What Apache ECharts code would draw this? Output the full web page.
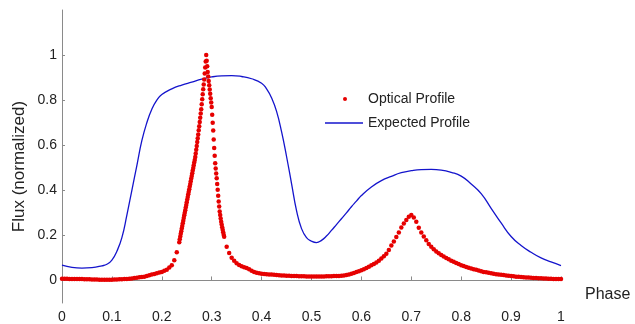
<!DOCTYPE html>
<html>
<head>
<meta charset="utf-8">
<title>Optical vs expected profile</title>
<script src="https://cdn.jsdelivr.net/npm/echarts@6/dist/echarts.min.js"></script>
<style>
  html, body { margin: 0; padding: 0; background: #fff; }
  #chart { width: 635px; height: 324px; }
</style>
</head>
<body>
<div id="chart"></div>
<script>
// tick labels
const xTicks = [0, 0.1, 0.2, 0.3, 0.4, 0.5, 0.6, 0.7, 0.8, 0.9, 1];
const yTicks = [0, 0.2, 0.4, 0.6, 0.8, 1];

// optical profile in three stretches
// phase 0 .. 0.235, step 0.005
const opticalLowStart = 0, opticalLowStep = 0.005;
const opticalLow = [
  0.008, 0.008, 0.008, 0.007, 0.007, 0.007, 0.006, 0.006, 0.006, 0.005,
  0.005, 0.005, 0.004, 0.004, 0.004, 0.003, 0.003, 0.003, 0.003, 0.003,
  0.003, 0.004, 0.004, 0.005, 0.005, 0.006, 0.006, 0.008, 0.009, 0.011,
  0.012, 0.014, 0.015, 0.017, 0.020, 0.023, 0.026, 0.029, 0.032, 0.035,
  0.038, 0.043, 0.048, 0.058, 0.068, 0.090, 0.125, 0.170
];
// phase 0.236 .. 0.325, step 0.001 (the main peak)
const opticalPeakStart = 0.236, opticalPeakStep = 0.001;
const opticalPeak = [
  0.183, 0.195, 0.207, 0.218, 0.230, 0.242, 0.254, 0.265, 0.277, 0.289,
  0.300, 0.312, 0.324, 0.335, 0.347, 0.359, 0.370, 0.382, 0.394, 0.405,
  0.417, 0.428, 0.440, 0.452, 0.464, 0.476, 0.488, 0.499, 0.511, 0.523,
  0.535, 0.548, 0.563, 0.580, 0.597, 0.614, 0.631, 0.648, 0.666, 0.684,
  0.703, 0.722, 0.741, 0.760, 0.782, 0.804, 0.826, 0.848, 0.870, 0.892,
  0.918, 0.945, 0.972, 1.000,
  0.975, 0.950, 0.925, 0.905, 0.885, 0.866, 0.847, 0.828, 0.809, 0.790,
  0.770, 0.735, 0.700, 0.665, 0.625, 0.588, 0.553, 0.520, 0.497, 0.475,
  0.454, 0.428, 0.402, 0.376, 0.350, 0.328, 0.306, 0.290, 0.275, 0.261,
  0.248, 0.236, 0.225, 0.214, 0.203, 0.194
];
// phase 0.330 .. 1.0, step 0.005
const opticalHighStart = 0.33, opticalHighStep = 0.005;
const opticalHigh = [
  0.150, 0.122, 0.101, 0.087, 0.076, 0.069, 0.063, 0.059, 0.055, 0.050,
  0.043, 0.037, 0.034, 0.032, 0.030, 0.029, 0.028, 0.027, 0.026, 0.025,
  0.024, 0.023, 0.022, 0.022, 0.021, 0.021, 0.020, 0.020, 0.020, 0.019,
  0.019, 0.019, 0.018, 0.018, 0.018, 0.018, 0.018, 0.018, 0.018, 0.018,
  0.019, 0.019, 0.019, 0.020, 0.020, 0.020, 0.021, 0.022, 0.024, 0.027,
  0.030, 0.033, 0.037, 0.041, 0.045, 0.050, 0.055, 0.061, 0.067, 0.073,
  0.080, 0.088, 0.097, 0.107, 0.119, 0.135, 0.155, 0.173, 0.193, 0.213,
  0.235, 0.253, 0.268, 0.283, 0.290, 0.279, 0.260, 0.234, 0.213, 0.195,
  0.178, 0.162, 0.150, 0.138, 0.129, 0.121, 0.113, 0.106, 0.100, 0.094,
  0.088, 0.083, 0.078, 0.073, 0.068, 0.064, 0.060, 0.056, 0.053, 0.050,
  0.047, 0.044, 0.041, 0.038, 0.036, 0.034, 0.032, 0.030, 0.028, 0.026,
  0.025, 0.024, 0.022, 0.021, 0.020, 0.019, 0.017, 0.016, 0.015, 0.014,
  0.013, 0.013, 0.012, 0.011, 0.011, 0.010, 0.010, 0.009, 0.009, 0.008,
  0.008, 0.007, 0.007, 0.006, 0.006
];

// expected profile
const expectedPhase = [
  0.00, 0.02, 0.04, 0.06, 0.08, 0.09, 0.10, 0.11, 0.12, 0.13,
  0.14, 0.15, 0.16, 0.17, 0.18, 0.19, 0.20, 0.22, 0.24, 0.26,
  0.28, 0.30, 0.32, 0.34, 0.36, 0.38, 0.40, 0.41, 0.42, 0.43,
  0.44, 0.45, 0.46, 0.47, 0.48, 0.49, 0.50, 0.51, 0.52, 0.53,
  0.54, 0.55, 0.56, 0.57, 0.58, 0.59, 0.60, 0.62, 0.64, 0.66,
  0.68, 0.70, 0.72, 0.74, 0.76, 0.78, 0.80, 0.82, 0.84, 0.86,
  0.88, 0.90, 0.92, 0.94, 0.96, 0.98, 1.00
];
const expectedFlux = [
  0.068, 0.058, 0.055, 0.057, 0.065, 0.072, 0.090, 0.130, 0.190, 0.290,
  0.400, 0.510, 0.620, 0.700, 0.760, 0.800, 0.825, 0.850, 0.867, 0.880,
  0.893, 0.903, 0.908, 0.909, 0.905, 0.895, 0.875, 0.850, 0.810, 0.750,
  0.660, 0.550, 0.430, 0.310, 0.230, 0.190, 0.174, 0.168, 0.178, 0.197,
  0.222, 0.248, 0.274, 0.300, 0.327, 0.352, 0.377, 0.415, 0.443, 0.462,
  0.478, 0.487, 0.492, 0.493, 0.490, 0.480, 0.463, 0.428, 0.385, 0.320,
  0.255, 0.195, 0.155, 0.125, 0.100, 0.082, 0.066
];

function pairs(start, step, values) {
  return values.map((v, i) => [+(start + i * step).toFixed(3), v]);
}

const opticalData = []
  .concat(pairs(opticalLowStart, opticalLowStep, opticalLow))
  .concat(pairs(opticalPeakStart, opticalPeakStep, opticalPeak))
  .concat(pairs(opticalHighStart, opticalHighStep, opticalHigh));
const expectedData = expectedPhase.map((p, i) => [p, expectedFlux[i]]);

const font = '"Liberation Sans", Arial, sans-serif';
const textColor = '#222';
const axisColor = '#8a8a8a';
const red = '#e60000';
const blue = '#1414cc';

let chart = echarts.init(document.getElementById('chart'));
let option = {
  animation: false,
  textStyle: { fontFamily: font },
  grid: { left: 62, right: 74, top: 10, bottom: 17.5, containLabel: false },
  legend: [{
    data: ['Optical Profile'],
    left: 343,
    top: 92,
    padding: 0,
    icon: 'circle',
    itemWidth: 4,
    itemHeight: 4,
    itemStyle: { color: red, opacity: 1 },
    textStyle: { fontFamily: font, fontSize: 14, color: textColor, padding: [0, 0, 0, 16] }
  }, {
    data: ['Expected Profile'],
    left: 325,
    top: 116,
    padding: 0,
    icon: 'rect',
    itemWidth: 38,
    itemHeight: 1.4,
    itemStyle: { color: blue },
    textStyle: { fontFamily: font, fontSize: 14, color: textColor }
  }],
  xAxis: {
    type: 'value',
    min: 0,
    max: 1,
    interval: 0.1,
    name: 'Phase',
    nameLocation: 'end',
    nameGap: 24,
    nameMoveOverlap: false,
    nameTextStyle: {
      fontFamily: font, fontSize: 16, color: textColor,
      verticalAlign: 'top', padding: [6, 0, 0, 0]
    },
    axisLine: { lineStyle: { color: axisColor, width: 1 } },
    axisTick: { inside: true, length: 4, lineStyle: { color: axisColor } },
    axisLabel: { margin: 7, fontSize: 14, color: textColor, fontFamily: font },
    splitLine: { show: false }
  },
  yAxis: {
    type: 'value',
    min: -0.1,
    max: 1.2,
    name: 'Flux (normalized)',
    nameLocation: 'middle',
    nameGap: 34,
    nameMoveOverlap: false,
    nameTextStyle: { fontFamily: font, fontSize: 17, color: textColor, padding: [0, 20, 0, 0] },
    axisLine: { show: true, lineStyle: { color: axisColor, width: 1 } },
    axisTick: { show: true, inside: true, length: 3, customValues: yTicks, lineStyle: { color: axisColor } },
    axisLabel: {
      customValues: yTicks,
      margin: 5, fontSize: 14, color: textColor, fontFamily: font,
      formatter: v => String(+v.toFixed(1))
    },
    splitLine: { show: false }
  },
  series: [{
    name: 'Optical Profile',
    type: 'scatter',
    data: opticalData,
    symbol: 'circle',
    symbolSize: 4.5,
    itemStyle: { color: red, opacity: 1 },
    z: 3
  }, {
    name: 'Expected Profile',
    type: 'line',
    data: expectedData,
    smooth: true,
    symbol: 'none',
    lineStyle: { color: blue, width: 1.3 },
    z: 2
  }]
};
option && chart.setOption(option);
</script>
</body>
</html>
